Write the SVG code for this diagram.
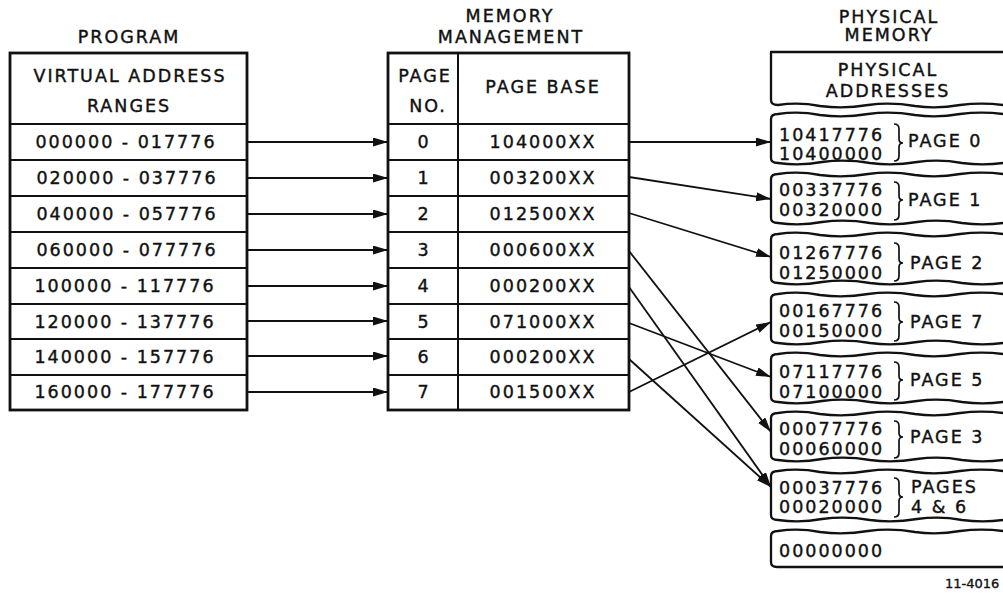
<svg xmlns="http://www.w3.org/2000/svg" width="1003" height="594" viewBox="0 0 1003 594">
<style>
.t{font-family:"DejaVu Sans","Liberation Sans",sans-serif;font-size:17.5px;letter-spacing:2px;fill:#111;stroke:#111;stroke-width:0.4}
.m{text-anchor:middle}
.s{font-size:13px;letter-spacing:0px;stroke-width:0.35}
.box{fill:none;stroke:#111;stroke-width:2.8}
.ln{fill:none;stroke:#111;stroke-width:2}
.blk{fill:none;stroke:#111;stroke-width:2.3;stroke-linejoin:round}
.br{fill:none;stroke:#111;stroke-width:1.7}
.c{fill:none;stroke:#111;stroke-width:1.8}
</style>
<defs>
<marker id="ah" markerUnits="userSpaceOnUse" markerWidth="16" markerHeight="10" refX="15" refY="4.5" orient="auto">
<path d="M0,0 L15,4.5 L0,9 Z" fill="#111"/>
</marker>
</defs>
<rect width="1003" height="594" fill="#fff"/>

<g id="program">
<text class="t m" x="129" y="43">PROGRAM</text>
<rect class="box" x="10" y="53" width="237" height="357"/>
<path class="ln" d="M10 124H247M10 160H247M10 196H247M10 232H247M10 268H247M10 304H247M10 339H247M10 375H247"/>
<text class="t m" x="130" y="82">VIRTUAL ADDRESS</text>
<text class="t m" x="129" y="112">RANGES</text>
<text class="t m" x="126" y="148">000000 - 017776</text>
<text class="t m" x="127" y="184">020000 - 037776</text>
<text class="t m" x="127" y="220">040000 - 057776</text>
<text class="t m" x="127" y="256">060000 - 077776</text>
<text class="t m" x="125" y="292">100000 - 117776</text>
<text class="t m" x="125" y="328">120000 - 137776</text>
<text class="t m" x="125" y="363">140000 - 157776</text>
<text class="t m" x="125" y="398">160000 - 177776</text>
</g>

<g id="memory-management">
<text class="t m" x="510" y="22">MEMORY</text>
<text class="t m" x="511" y="43">MANAGEMENT</text>
<rect class="box" x="388" y="53" width="241" height="357"/>
<path class="ln" d="M458 53V410M388 124H629M388 160H629M388 196H629M388 232H629M388 268H629M388 304H629M388 339H629M388 375H629"/>
<text class="t m" x="425" y="82">PAGE</text>
<text class="t m" x="428" y="112">NO.</text>
<text class="t m" x="543" y="93">PAGE BASE</text>
<text class="t m" x="424" y="148">0</text>
<text class="t m" x="424" y="184">1</text>
<text class="t m" x="424" y="220">2</text>
<text class="t m" x="424" y="256">3</text>
<text class="t m" x="424" y="292">4</text>
<text class="t m" x="424" y="328">5</text>
<text class="t m" x="424" y="363">6</text>
<text class="t m" x="424" y="398">7</text>
<text class="t m" x="543" y="148">104000XX</text>
<text class="t m" x="543" y="184">003200XX</text>
<text class="t m" x="543" y="220">012500XX</text>
<text class="t m" x="543" y="256">000600XX</text>
<text class="t m" x="543" y="292">000200XX</text>
<text class="t m" x="543" y="328">071000XX</text>
<text class="t m" x="543" y="363">000200XX</text>
<text class="t m" x="543" y="398">001500XX</text>
</g>

<g id="physical-memory">
<text class="t m" x="889" y="23">PHYSICAL</text>
<text class="t m" x="889" y="41">MEMORY</text>
<path class="blk" d="M1010 52L771 52L771 100Q771 105 778 105Q799 102 820 106Q844 109 868 105Q891 102 915 106Q937 109 960 105Q985 102 1010 106"/>
<text class="t m" x="888" y="76">PHYSICAL</text>
<text class="t m" x="888" y="97">ADDRESSES</text>
</g>

<g id="page0">
<path class="blk" d="M771 119Q771 114 778 114Q799 111 820 115Q844 118 868 114Q891 111 915 115Q937 118 960 114Q985 111 1010 115M771 119L771 158Q771 163 778 163Q800 166 822 162Q846 159 870 163Q893 166 917 162Q940 159 962 163Q986 166 1010 162"/>
<text class="t" x="779" y="141">10417776</text>
<text class="t" x="779" y="160">10400000</text>
<path class="br" d="M894 124Q899 124 899 129L899 139Q899 143 903 143Q899 143 899 147L899 156Q899 161 894 161"/>
<text class="t" x="908" y="147">PAGE 0</text>
</g>

<g id="page1">
<path class="blk" d="M771 179Q771 174 778 174Q799 171 820 175Q844 178 868 174Q891 171 915 175Q937 178 960 174Q985 171 1010 175M771 179L771 218Q771 223 778 223Q800 226 822 222Q846 219 870 223Q893 226 917 222Q940 219 962 223Q986 226 1010 222"/>
<text class="t" x="779" y="196">00337776</text>
<text class="t" x="779" y="216">00320000</text>
<path class="br" d="M894 182Q899 182 899 187L899 196Q899 200 903 200Q899 200 899 204L899 215Q899 220 894 220"/>
<text class="t" x="908" y="206">PAGE 1</text>
</g>

<g id="page2">
<path class="blk" d="M771 239Q771 234 778 234Q799 231 820 235Q844 238 868 234Q891 231 915 235Q937 238 960 234Q985 231 1010 235M771 239L771 278Q771 283 778 283Q800 286 822 282Q846 279 870 283Q893 286 917 282Q940 279 962 283Q986 286 1010 282"/>
<text class="t" x="779" y="259">01267776</text>
<text class="t" x="779" y="279">01250000</text>
<path class="br" d="M894 243Q899 243 899 248L899 259Q899 263 903 263Q899 263 899 267L899 276Q899 281 894 281"/>
<text class="t" x="910" y="269">PAGE 2</text>
</g>

<g id="page7">
<path class="blk" d="M771 299Q771 294 778 294Q799 291 820 295Q844 298 868 294Q891 291 915 295Q937 298 960 294Q985 291 1010 295M771 299L771 338Q771 343 778 343Q800 346 822 342Q846 339 870 343Q893 346 917 342Q940 339 962 343Q986 346 1010 342"/>
<text class="t" x="779" y="317">00167776</text>
<text class="t" x="779" y="337">00150000</text>
<path class="br" d="M894 302Q899 302 899 307L899 318Q899 322 903 322Q899 322 899 326L899 336Q899 341 894 341"/>
<text class="t" x="910" y="328">PAGE 7</text>
</g>

<g id="page5">
<path class="blk" d="M771 359Q771 354 778 354Q799 351 820 355Q844 358 868 354Q891 351 915 355Q937 358 960 354Q985 351 1010 355M771 359L771 397Q771 402 778 402Q800 405 822 401Q846 398 870 402Q893 405 917 401Q940 398 962 402Q986 405 1010 401"/>
<text class="t" x="779" y="378">07117776</text>
<text class="t" x="779" y="398">07100000</text>
<path class="br" d="M894 362Q899 362 899 367L899 376Q899 380 903 380Q899 380 899 384L899 395Q899 400 894 400"/>
<text class="t" x="910" y="386">PAGE 5</text>
</g>

<g id="page3">
<path class="blk" d="M771 418Q771 413 778 413Q799 410 820 414Q844 417 868 413Q891 410 915 414Q937 417 960 413Q985 410 1010 414M771 418L771 455Q771 460 778 460Q800 463 822 459Q846 456 870 460Q893 463 917 459Q940 456 962 460Q986 463 1010 459"/>
<text class="t" x="779" y="435">00077776</text>
<text class="t" x="779" y="455">00060000</text>
<path class="br" d="M894 421Q899 421 899 426L899 433Q899 437 903 437Q899 437 899 441L899 453Q899 458 894 458"/>
<text class="t" x="910" y="443">PAGE 3</text>
</g>

<g id="pages4and6">
<path class="blk" d="M771 476Q771 471 778 471Q799 468 820 472Q844 475 868 471Q891 468 915 472Q937 475 960 471Q985 468 1010 472M771 476L771 515Q771 520 778 520Q800 523 822 519Q846 516 870 520Q893 523 917 519Q940 516 962 520Q986 523 1010 519"/>
<text class="t" x="779" y="494">00037776</text>
<text class="t" x="779" y="513">00020000</text>
<path class="br" d="M894 478Q899 478 899 483L899 493Q899 497 903 497Q899 497 899 501L899 512Q899 517 894 517"/>
<text class="t" x="911" y="493">PAGES</text>
<text class="t" x="911" y="513">4 &amp; 6</text>
</g>

<g id="base">
<path class="blk" d="M771 536Q771 531 778 531Q799 528 820 532Q844 535 868 531Q891 528 915 532Q937 535 960 531Q985 528 1010 532M771 536L771 562Q771 567 777 567L1010 567"/>
<text class="t" x="779" y="557">00000000</text>
</g>

<g id="connectors">
<path class="c" marker-end="url(#ah)" d="M247 142H388"/>
<path class="c" marker-end="url(#ah)" d="M247 178H388"/>
<path class="c" marker-end="url(#ah)" d="M247 214H388"/>
<path class="c" marker-end="url(#ah)" d="M247 250H388"/>
<path class="c" marker-end="url(#ah)" d="M247 286H388"/>
<path class="c" marker-end="url(#ah)" d="M247 321H388"/>
<path class="c" marker-end="url(#ah)" d="M247 356H388"/>
<path class="c" marker-end="url(#ah)" d="M247 392H388"/>
<path class="c" marker-end="url(#ah)" d="M629 142L771 142"/>
<path class="c" marker-end="url(#ah)" d="M629 177L771 199"/>
<path class="c" marker-end="url(#ah)" d="M629 213L771 257"/>
<path class="c" marker-end="url(#ah)" d="M629 251L771 432"/>
<path class="c" marker-end="url(#ah)" d="M629 287L771 487"/>
<path class="c" marker-end="url(#ah)" d="M629 323L771 377"/>
<path class="c" marker-end="url(#ah)" d="M629 359L771 487"/>
<path class="c" marker-end="url(#ah)" d="M629 392L771 322"/>
</g>

<text class="t s" x="945" y="588">11-4016</text>
</svg>
